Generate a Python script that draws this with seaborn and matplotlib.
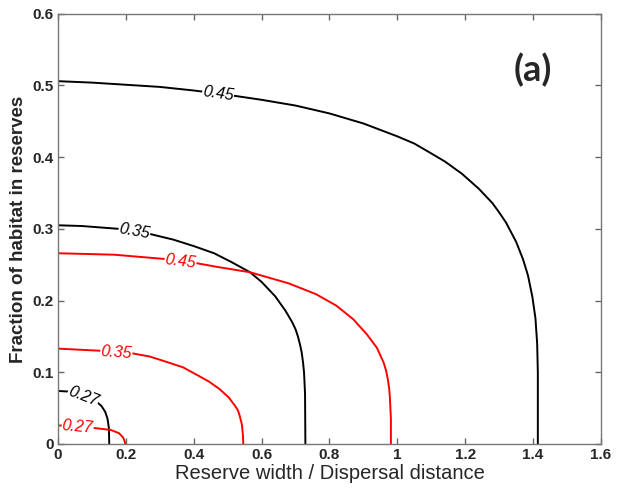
import matplotlib
matplotlib.use("Agg")
import matplotlib.pyplot as plt
import seaborn as sns
import pandas as pd

sns.set_style("ticks")
plt.rcParams["font.family"] = ["Liberation Sans", "DejaVu Sans"]

# Contour lines: reserve width / dispersal distance (x) vs habitat fraction (y)
black_045_x = [0, 0.10, 0.20, 0.30, 0.40, 0.50, 0.60, 0.70, 0.80, 0.90, 1.00, 1.05, 1.09, 1.14,
               1.19, 1.24, 1.28, 1.30, 1.32, 1.35, 1.37, 1.385, 1.398, 1.407, 1.412, 1.414, 1.414]
black_045_y = [0.506, 0.504, 0.501, 0.498, 0.493, 0.487, 0.480, 0.472, 0.461, 0.447, 0.429,
               0.419, 0.408, 0.394, 0.377, 0.356, 0.336, 0.323, 0.309, 0.282, 0.258, 0.235,
               0.205, 0.175, 0.140, 0.100, 0.0]

black_035_x = [0, 0.07, 0.18, 0.27, 0.34, 0.40, 0.46, 0.51, 0.566, 0.60, 0.64, 0.67, 0.69,
               0.700, 0.707, 0.713, 0.718, 0.722, 0.725, 0.728, 0.729]
black_035_y = [0.305, 0.304, 0.300, 0.293, 0.285, 0.276, 0.266, 0.254, 0.2395, 0.226, 0.206,
               0.186, 0.170, 0.160, 0.150, 0.139, 0.128, 0.114, 0.100, 0.070, 0.0]

black_027_x = [0, 0.034, 0.07, 0.111, 0.128, 0.139, 0.146, 0.150, 0.151]
black_027_y = [0.074, 0.073, 0.068, 0.060, 0.053, 0.045, 0.035, 0.022, 0.0]

red_045_x = [0, 0.165, 0.315, 0.41, 0.475, 0.566, 0.68, 0.76, 0.82, 0.87, 0.91, 0.94, 0.96,
             0.967, 0.972, 0.976, 0.978, 0.981, 0.981]
red_045_y = [0.266, 0.264, 0.258, 0.252, 0.2465, 0.2395, 0.224, 0.209, 0.193, 0.174, 0.153,
             0.134, 0.113, 0.102, 0.090, 0.077, 0.065, 0.035, 0.0]

red_035_x = [0, 0.126, 0.218, 0.27, 0.31, 0.368, 0.407, 0.445, 0.475, 0.503, 0.522, 0.530,
             0.535, 0.542, 0.545, 0.546]
red_035_y = [0.133, 0.130, 0.1265, 0.122, 0.116, 0.107, 0.097, 0.087, 0.077, 0.065, 0.053,
             0.047, 0.040, 0.027, 0.012, 0.0]

red_027_x = [0, 0.06, 0.112, 0.156, 0.180, 0.192, 0.197, 0.198]
red_027_y = [0.026, 0.024, 0.022, 0.0195, 0.015, 0.009, 0.003, 0.0]

# Inline contour labels: (text, x, y, rotation, colour)
contour_labels = [
    ("0.45", 0.472, 0.489, -8, "black"),
    ("0.35", 0.225, 0.296, -10, "black"),
    ("0.27", 0.074, 0.066, -21, "black"),
    ("0.45", 0.361, 0.255, -7, "red"),
    ("0.35", 0.172, 0.128, -4, "red"),
    ("0.27", 0.058, 0.024, -5, "red"),
]

x_ticks = [0, 0.2, 0.4, 0.6, 0.8, 1.0, 1.2, 1.4, 1.6]
x_tick_labels = ["0", "0.2", "0.4", "0.6", "0.8", "1", "1.2", "1.4", "1.6"]
y_ticks = [0, 0.1, 0.2, 0.3, 0.4, 0.5, 0.6]
y_tick_labels = ["0", "0.1", "0.2", "0.3", "0.4", "0.5", "0.6"]

curves = [
    (black_045_x, black_045_y, "black"),
    (black_035_x, black_035_y, "black"),
    (black_027_x, black_027_y, "black"),
    (red_045_x, red_045_y, "red"),
    (red_035_x, red_035_y, "red"),
    (red_027_x, red_027_y, "red"),
]

fig, ax = plt.subplots(figsize=(6.17, 4.92), dpi=100)
fig.subplots_adjust(left=0.094, right=0.974, top=0.972, bottom=0.0976)

for cx, cy, col in curves:
    df = pd.DataFrame({"x": cx, "y": cy})
    sns.lineplot(data=df, x="x", y="y", sort=False, estimator=None,
                 color=col, linewidth=1.4, ax=ax)

for txt, lx, ly, rot, col in contour_labels:
    ax.text(lx, ly, txt, color=col, fontsize=11.5, style="italic",
            rotation=rot, rotation_mode="anchor", ha="center", va="center",
            bbox=dict(facecolor="white", edgecolor="none", pad=0.3), zorder=5)

ax.set_xlim(0, 1.6)
ax.set_ylim(0, 0.6)
ax.set_xticks(x_ticks)
ax.set_xticklabels(x_tick_labels)
ax.set_yticks(y_ticks)
ax.set_yticklabels(y_tick_labels)
ax.tick_params(direction="in", length=4, width=1, top=True, right=True,
               color="#666666", labelsize=11, pad=3)
for lab in ax.get_xticklabels() + ax.get_yticklabels():
    lab.set_fontweight("bold")
for sp in ax.spines.values():
    sp.set_visible(True)
    sp.set_color("#777777")
    sp.set_linewidth(1.0)

ax.set_xlabel("Reserve width / Dispersal distance", fontsize=14.5, labelpad=1)
ax.set_ylabel("Fraction of habitat in reserves", fontsize=13.5, fontweight="bold",
              labelpad=4)

ax.text(0.875, 0.87, "(a)", transform=ax.transAxes, fontsize=26, fontweight="bold",
        family=["Lato", "DejaVu Sans"], ha="center", va="center")

fig.savefig("out.png", dpi=100, facecolor="white")
